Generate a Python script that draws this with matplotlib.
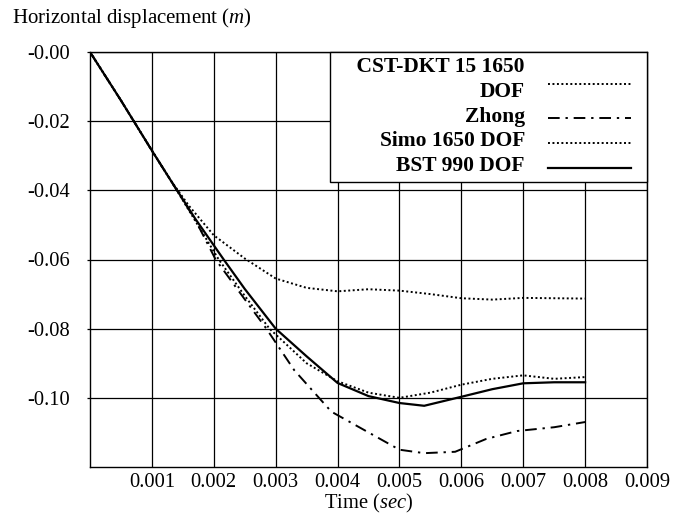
import matplotlib
matplotlib.use("Agg")
import matplotlib.pyplot as plt
from matplotlib.legend_handler import HandlerLine2D

# --- datos ---
t_cst = [0, 0.0005, 0.001, 0.0013, 0.0016, 0.002, 0.0025, 0.003, 0.0035, 0.004,
         0.0045, 0.005, 0.0055, 0.006, 0.0065, 0.007, 0.0075, 0.008]
v_cst = [0, -0.014, -0.0285, -0.037, -0.0445, -0.053, -0.0597, -0.0655, -0.0682, -0.0692,
         -0.0686, -0.069, -0.0700, -0.0712, -0.0716, -0.0711, -0.0712, -0.0713]

t_zhong = [0, 0.0005, 0.001, 0.0013, 0.0017, 0.00203, 0.0025, 0.00285, 0.0033, 0.0039,
           0.0045, 0.005, 0.0054, 0.0059, 0.0064, 0.0069, 0.0075, 0.008]
v_zhong = [0, -0.014, -0.0285, -0.037, -0.0485, -0.060, -0.0715, -0.080, -0.0920, -0.1040,
           -0.1100, -0.1150, -0.1160, -0.1156, -0.1119, -0.1096, -0.1085, -0.1070]

t_simo = [0, 0.0005, 0.001, 0.0013, 0.0017, 0.00208, 0.0025, 0.0029, 0.0035, 0.004,
          0.0045, 0.005, 0.0055, 0.006, 0.0065, 0.007, 0.0075, 0.008]
v_simo = [0, -0.014, -0.0285, -0.037, -0.0488, -0.060, -0.0705, -0.080, -0.0900, -0.0952,
          -0.0985, -0.1000, -0.0985, -0.0962, -0.0945, -0.0935, -0.0945, -0.0940]

t_bst = [0, 0.0005, 0.001, 0.0013, 0.0017, 0.00216, 0.0025, 0.003, 0.0035, 0.004,
         0.0045, 0.005, 0.0054, 0.006, 0.0065, 0.007, 0.0075, 0.008]
v_bst = [0, -0.014, -0.0285, -0.037, -0.0482, -0.060, -0.0685, -0.080, -0.0880, -0.0957,
         -0.0995, -0.1015, -0.1023, -0.0997, -0.0975, -0.0958, -0.0955, -0.0955]

series_labels = ["    CST-DKT 15 1650\nDOF", "Zhong", "Simo 1650 DOF", "BST 990 DOF"]

x_ticks = [0.001, 0.002, 0.003, 0.004, 0.005, 0.006, 0.007, 0.008, 0.009]
x_tick_labels = ["0.001", "0.002", "0.003", "0.004", "0.005", "0.006", "0.007", "0.008", "0.009"]
y_ticks = [0.0, -0.02, -0.04, -0.06, -0.08, -0.10]
y_tick_labels = ["-0.00", "-0.02", "-0.04", "-0.06", "-0.08", "-0.10"]


class HandlerCorto(HandlerLine2D):
    # muestra de linea mas corta a la derecha y algo mas baja
    def create_artists(self, legend, orig_handle, xdescent, ydescent, width, height, fontsize, trans):
        return super().create_artists(legend, orig_handle, xdescent, ydescent + 6.0,
                                      width - 8.0, height, fontsize, trans)


plt.rcParams['font.family'] = ['Liberation Serif', 'DejaVu Serif']
plt.rcParams['mathtext.fontset'] = 'custom'
plt.rcParams['mathtext.rm'] = 'Liberation Serif'
plt.rcParams['mathtext.it'] = 'Liberation Serif:italic'

fig = plt.figure(figsize=(6.73, 5.15), dpi=100)
ax = fig.add_axes([90 / 673, 1 - 467 / 515, (647 - 90) / 673, (467 - 52) / 515])

ax.plot(t_cst, v_cst, color='black', lw=1.4, linestyle=(0, (1, 1.3)), label=series_labels[0])
ax.plot(t_zhong, v_zhong, color='black', lw=1.4, linestyle=(0, (6, 3, 1.2, 3)), label=series_labels[1])
ax.plot(t_simo, v_simo, color='black', lw=1.4, linestyle=(0, (1, 1.3)), label=series_labels[2])
ax.plot(t_bst, v_bst, color='black', lw=1.6, linestyle='-', label=series_labels[3])

ax.set_xlim(0, 0.009)
ax.set_ylim(-0.12, 0.0)
ax.set_xticks(x_ticks)
ax.set_xticklabels(x_tick_labels)
ax.set_yticks(y_ticks)
ax.set_yticklabels(y_tick_labels)
ax.tick_params(axis='both', labelsize=14.8)
ax.tick_params(axis='x', length=0, pad=4)
ax.tick_params(axis='y', length=2.5, width=0.9, direction='out', pad=12)
ax.grid(True, color='black', lw=0.9)
for s in ax.spines.values():
    s.set_linewidth(1.0)
    s.set_color('black')

ax.set_xlabel('Time ($sec$)', fontsize=14.8, labelpad=0)
fig.text(12 / 673, 1 - 18 / 515, 'Horizontal displacement ($m$)', fontsize=15, va='center', ha='left')

leg = ax.legend(loc='upper right', markerfirst=False, borderaxespad=0, fancybox=False,
                framealpha=1, edgecolor='black', handlelength=4.37, handletextpad=1.05,
                labelspacing=0.22, borderpad=0.25,
                handler_map={matplotlib.lines.Line2D: HandlerCorto()},
                prop={'weight': 'bold', 'size': 15.5})
leg.get_frame().set_linewidth(1.0)
for txt in leg.get_texts():
    txt.set_multialignment('right')
    txt.set_linespacing(1.3)

fig.savefig('out.png', dpi=100)
